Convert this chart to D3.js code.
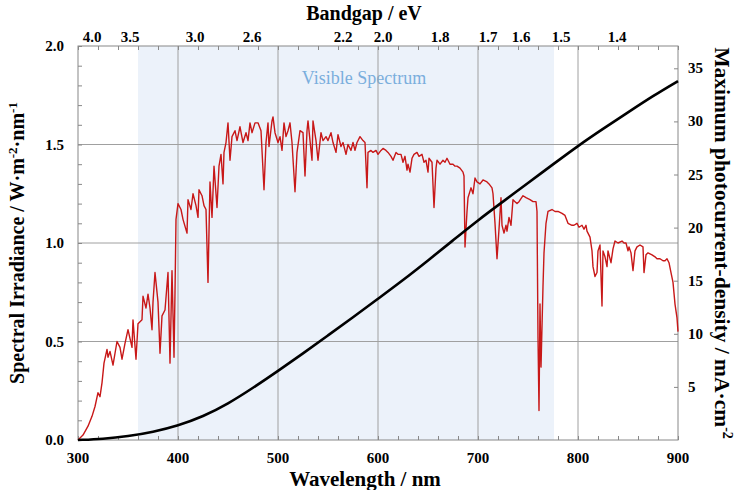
<!DOCTYPE html>
<html>
<head>
<meta charset="utf-8">
<script src="https://cdn.jsdelivr.net/npm/d3@7"></script>
<style>
  html, body { margin: 0; padding: 0; background: #fff; }
  svg text { font-family: "Liberation Serif", "Times New Roman", serif; font-weight: bold; }
</style>
</head>
<body>
<div id="chart"></div>
<script>
// AM1.5G spectrum (nm, W m^-2 nm^-1)
const specWl = [300, 305, 310, 314, 317, 320, 322, 324, 326, 329, 330, 332, 335, 339, 342, 344, 347, 350, 354, 355,
  358, 360, 364, 365, 368, 370, 372, 374, 375, 377, 380, 382, 384, 387, 390, 392, 394, 396, 397, 398,
  400, 403, 405, 409, 410, 413, 415, 418, 420, 421, 424, 426, 428, 430, 432, 434, 436, 439, 441, 443,
  445, 446, 448, 450, 452, 454, 457, 459, 462, 465, 468, 470, 472, 474, 477, 480, 483, 486, 488, 490,
  491, 494, 495, 497, 500, 502, 504, 506, 508, 510, 512, 514, 517, 519, 522, 525, 527, 529, 530, 532,
  534, 535, 538, 540, 543, 545, 548, 550, 553, 555, 558, 560, 563, 565, 568, 570, 573, 575, 577, 579,
  582, 585, 587, 589, 590, 593, 595, 598, 600, 603, 605, 608, 610, 613, 615, 618, 620, 623, 625, 627,
  629, 630, 632, 634, 636, 639, 641, 644, 646, 648, 650, 651, 654, 656, 658, 659, 662, 665, 667, 669,
  672, 675, 677, 679, 682, 685, 686, 687, 689, 690, 693, 695, 697, 699, 702, 705, 709, 711, 714, 715,
  717, 719, 721, 723, 724, 726, 728, 729, 731, 733, 735, 737, 739, 741, 745, 748, 752, 755, 758, 759,
  760, 761, 762, 763, 765, 766, 768, 770, 774, 777, 780, 784, 787, 790, 794, 796, 799, 801, 804, 806,
  808, 809, 812, 814, 815, 817, 819, 820, 822, 824, 825, 827, 829, 830, 833, 835, 837, 840, 844, 846,
  848, 850, 851, 853, 855, 857, 859, 862, 865, 866, 868, 870, 874, 877, 879, 882, 885, 887, 889, 891,
  893, 895, 897, 899, 900];
const specIrr = [0.00, 0.025, 0.07, 0.12, 0.17, 0.24, 0.22, 0.29, 0.39, 0.46, 0.42, 0.45, 0.38, 0.50, 0.47, 0.41, 0.49, 0.56, 0.47, 0.61,
  0.41, 0.59, 0.61, 0.73, 0.67, 0.74, 0.67, 0.56, 0.70, 0.85, 0.70, 0.44, 0.63, 0.66, 0.85, 0.39, 0.86, 0.42, 0.75, 1.12,
  1.20, 1.17, 1.12, 1.05, 1.22, 1.17, 1.25, 1.19, 1.13, 1.27, 1.24, 1.19, 1.17, 0.80, 1.31, 1.13, 1.39, 1.18, 1.39, 1.45,
  1.30, 1.46, 1.51, 1.61, 1.42, 1.54, 1.57, 1.52, 1.59, 1.51, 1.56, 1.52, 1.61, 1.56, 1.61, 1.61, 1.57, 1.27, 1.51, 1.61,
  1.49, 1.62, 1.64, 1.56, 1.51, 1.54, 1.47, 1.61, 1.54, 1.57, 1.61, 1.51, 1.26, 1.46, 1.57, 1.56, 1.34, 1.57, 1.62, 1.52,
  1.42, 1.62, 1.52, 1.42, 1.56, 1.52, 1.54, 1.52, 1.56, 1.51, 1.46, 1.55, 1.49, 1.51, 1.45, 1.50, 1.47, 1.51, 1.47, 1.51,
  1.54, 1.52, 1.51, 1.28, 1.46, 1.47, 1.46, 1.47, 1.45, 1.47, 1.48, 1.47, 1.46, 1.44, 1.42, 1.46, 1.45, 1.45, 1.41, 1.44,
  1.37, 1.40, 1.36, 1.43, 1.45, 1.46, 1.44, 1.45, 1.41, 1.42, 1.36, 1.43, 1.41, 1.18, 1.38, 1.42, 1.40, 1.42, 1.41, 1.43,
  1.40, 1.40, 1.39, 1.39, 1.38, 1.36, 1.34, 0.98, 1.16, 1.23, 1.28, 1.25, 1.33, 1.31, 1.30, 1.32, 1.31, 1.30, 1.28, 1.25,
  1.10, 0.92, 1.07, 1.23, 1.09, 1.05, 1.09, 1.06, 1.13, 1.09, 1.22, 1.21, 1.20, 1.21, 1.24, 1.23, 1.22, 1.21, 1.21, 1.16,
  0.52, 0.15, 0.69, 0.37, 0.78, 0.95, 1.10, 1.16, 1.17, 1.16, 1.16, 1.15, 1.14, 1.10, 1.09, 1.09, 1.10, 1.08, 1.09, 1.07,
  1.09, 1.06, 1.03, 0.96, 0.88, 0.83, 0.85, 0.96, 0.99, 0.68, 0.96, 0.93, 0.88, 0.96, 0.90, 0.97, 1.01, 1.00, 1.01, 1.00,
  1.00, 0.96, 0.98, 0.95, 0.86, 0.96, 0.98, 0.99, 0.98, 0.85, 0.94, 0.95, 0.94, 0.93, 0.92, 0.92, 0.91, 0.91, 0.92, 0.90,
  0.85, 0.80, 0.69, 0.62, 0.55];

// cumulative photocurrent curve (nm, mA cm^-2)
const jWl = [300, 325, 350, 375, 400, 425, 450, 475, 500, 525, 550, 575, 600, 625, 650, 675, 700, 725, 750, 775, 800, 825, 850, 875, 900];
const jVal = [0, 0.1, 0.35, 0.75, 1.35, 2.2, 3.4, 4.9, 6.5, 8.15, 9.85, 11.55, 13.3, 15.05, 16.9, 18.8, 20.7, 22.45, 24.2, 25.95, 27.7, 29.3, 30.85, 32.4, 33.8];

const xTicks = [300, 400, 500, 600, 700, 800, 900];
const yTicks = [0.0, 0.5, 1.0, 1.5, 2.0];
const y2Ticks = [5, 10, 15, 20, 25, 30, 35];
// top bandgap labels and the wavelength where each one sits in the figure
const eVLabels = ["4.0", "3.5", "3.0", "2.6", "2.2", "2.0", "1.8", "1.7", "1.6", "1.5", "1.4"];
const eVWl = [314, 352, 417, 474, 565, 605, 662, 710, 743, 783, 839];
const visibleBand = [360, 776];

const W = 737, H = 490;
const margin = { top: 46, right: 59, bottom: 50, left: 78 };
const width = W - margin.left - margin.right;
const height = H - margin.top - margin.bottom;

const svg = d3.select("#chart").append("svg")
  .attr("width", W).attr("height", H);
const g = svg.append("g")
  .attr("transform", "translate(" + margin.left + "," + margin.top + ")");

const x = d3.scaleLinear().domain([300, 900]).range([0, width]);
const y = d3.scaleLinear().domain([0, 2]).range([height, 0]);
const y2 = d3.scaleLinear().domain([0, 37.1]).range([height, 0]);

// visible band
g.append("rect")
  .attr("x", x(visibleBand[0])).attr("y", 0)
  .attr("width", x(visibleBand[1]) - x(visibleBand[0]))
  .attr("height", height)
  .attr("fill", "#ecf2fa");

g.append("text")
  .attr("x", x(586)).attr("y", 38)
  .attr("text-anchor", "middle")
  .style("font-weight", "normal")
  .style("font-size", "18px")
  .attr("fill", "#7aaedd")
  .text("Visible Spectrum");

// grid
g.append("g").selectAll("line").data(xTicks.slice(1, -1)).enter().append("line")
  .attr("x1", d => x(d)).attr("x2", d => x(d))
  .attr("y1", 0).attr("y2", height)
  .attr("stroke", "#a0a0a0").attr("stroke-width", 1);
g.append("g").selectAll("line").data(yTicks.slice(1, -1)).enter().append("line")
  .attr("x1", 0).attr("x2", width)
  .attr("y1", d => y(d)).attr("y2", d => y(d))
  .attr("stroke", "#a0a0a0").attr("stroke-width", 1);

// axes with inward minor ticks
const minorX = d3.range(300, 901, 20);
const minorY = d3.range(0, 2.001, 0.1);

g.append("g")
  .attr("transform", "translate(0," + height + ")")
  .call(d3.axisTop(x).tickValues(minorX).tickSize(4).tickFormat(""))
  .call(a => a.select(".domain").remove())
  .selectAll("line").attr("stroke", "#888");

g.append("g")
  .call(d3.axisBottom(x).tickValues(minorX).tickSize(4).tickFormat(""))
  .call(a => a.select(".domain").remove())
  .selectAll("line").attr("stroke", "#888");

g.append("g")
  .call(d3.axisRight(y).tickValues(minorY).tickSize(4).tickFormat(""))
  .call(a => a.select(".domain").remove())
  .selectAll("line").attr("stroke", "#888");

g.append("g")
  .attr("transform", "translate(" + width + ",0)")
  .call(d3.axisLeft(y2).tickValues(y2Ticks).tickSize(4).tickFormat(""))
  .call(a => a.select(".domain").remove())
  .selectAll("line").attr("stroke", "#888");

// frame
g.append("rect")
  .attr("width", width).attr("height", height)
  .attr("fill", "none").attr("stroke", "#888").attr("stroke-width", 1);

// curves
const specData = specWl.map((w, i) => [w, specIrr[i]]);
const jData = jWl.map((w, i) => [w, jVal[i]]);

g.append("path")
  .datum(specData)
  .attr("fill", "none")
  .attr("stroke", "#c81818")
  .attr("stroke-width", 1.4)
  .attr("stroke-linejoin", "round")
  .attr("d", d3.line().x(d => x(d[0])).y(d => y(d[1])));

g.append("path")
  .datum(jData)
  .attr("fill", "none")
  .attr("stroke", "#000")
  .attr("stroke-width", 2.6)
  .attr("d", d3.line().curve(d3.curveBasis).x(d => x(d[0])).y(d => y2(d[1])));

// tick labels
g.append("g").selectAll("text").data(xTicks).enter().append("text")
  .attr("x", d => x(d)).attr("y", height + 23)
  .attr("text-anchor", "middle")
  .style("font-size", "15px")
  .text(d => d);

g.append("g").selectAll("text").data(yTicks).enter().append("text")
  .attr("x", -14).attr("y", d => y(d) + 5)
  .attr("text-anchor", "end")
  .style("font-size", "15px")
  .text(d => d.toFixed(1));

g.append("g").selectAll("text").data(y2Ticks).enter().append("text")
  .attr("x", width + 10).attr("y", d => y2(d) + 5)
  .attr("text-anchor", "start")
  .style("font-size", "15px")
  .text(d => d);

g.append("g").selectAll("text").data(eVLabels).enter().append("text")
  .attr("x", (d, i) => x(eVWl[i])).attr("y", -4)
  .attr("text-anchor", "middle")
  .style("font-size", "15px")
  .text(d => d);

// axis titles
svg.append("text")
  .attr("x", margin.left + width / 2 - 14).attr("y", 20)
  .attr("text-anchor", "middle")
  .style("font-size", "20px")
  .text("Bandgap / eV");

svg.append("text")
  .attr("x", margin.left + width / 2 - 13).attr("y", H - 4)
  .attr("text-anchor", "middle")
  .style("font-size", "21px")
  .text("Wavelength / nm");

const lt = svg.append("text")
  .attr("transform", "translate(24," + (margin.top + height / 2) + ") rotate(-90)")
  .attr("text-anchor", "middle")
  .style("font-size", "20px");
lt.append("tspan").text("Spectral Irradiance / W\u00b7m");
lt.append("tspan").attr("dy", -7).style("font-size", "13px").text("-2");
lt.append("tspan").attr("dy", 7).text("\u00b7nm");
lt.append("tspan").attr("dy", -7).style("font-size", "13px").text("-1");

const rt = svg.append("text")
  .attr("transform", "translate(715," + (margin.top + height / 2) + ") rotate(90)")
  .attr("text-anchor", "middle")
  .style("font-size", "21.5px");
rt.append("tspan").text("Maximum photocurrent-density / mA\u00b7cm");
rt.append("tspan").attr("dy", -8).style("font-size", "14px").text("-2");
</script>
</body>
</html>
